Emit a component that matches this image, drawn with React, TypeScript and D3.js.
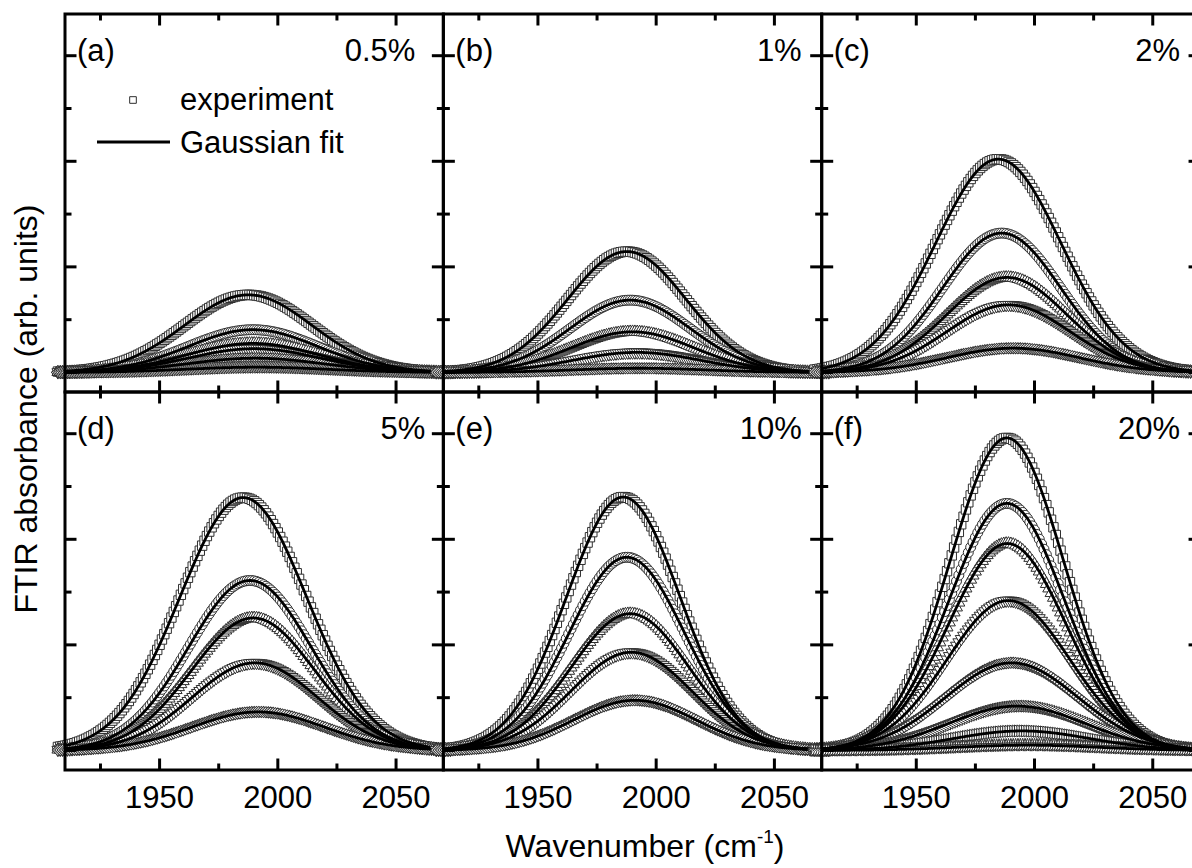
import React from 'react';
import * as d3 from 'd3';

// ---------- data ----------
const xDomain: [number, number] = [1910, 2070];
const yDomain: [number, number] = [-0.37, 6.79];
const majorXTicks = [1950, 2000, 2050];
const minorXTicks = [1925, 1975, 2025];
const majorYTicks = [0, 2, 4, 6];
const minorYTicks = [1, 3, 5];

const panelLetters = ['(a)', '(b)', '(c)', '(d)', '(e)', '(f)'];
const concentrations = ['0.5%', '1%', '2%', '5%', '10%', '20%'];

// Gaussian fit parameters per curve: peak height (arb.), centre (cm-1), sigma (cm-1)
const heightsA = [1.47, 0.81, 0.55, 0.45, 0.27, 0.1];
const centersA = [1987.5, 1989.5, 1989.5, 1990, 1990.5, 1991];
const sigmasA = [27, 27.5, 28, 28, 29, 30];

const heightsB = [2.29, 1.37, 0.77, 0.38, 0.08];
const centersB = [1987.6, 1989, 1990, 1991.8, 1993];
const sigmasB = [25, 25.5, 26, 27, 28];

const heightsC = [4.04, 2.64, 1.8, 1.28, 0.46];
const centersC = [1984.7, 1986.1, 1988.3, 1989, 1991];
const sigmasC = [26.5, 25, 25.5, 26, 28];

const heightsD = [4.79, 3.22, 2.51, 1.66, 0.73];
const centersD = [1985.4, 1988.2, 1989.6, 1990.3, 1991.7];
const sigmasD = [26.8, 26, 26, 26.5, 28];

const heightsE = [4.8, 3.66, 2.59, 1.86, 0.95];
const centersE = [1986.1, 1987.6, 1989, 1989.5, 1991];
const sigmasE = [24, 24.5, 25, 25.5, 26];

const heightsF = [5.92, 4.68, 3.92, 2.84, 1.66, 0.84, 0.37, 0.1];
const centersF = [1988.3, 1988.3, 1988.5, 1989, 1990.4, 1992.5, 1994.6, 1997];
const sigmasF = [24, 24.5, 25, 26, 28, 29, 29, 30];

const markerKinds = ['square', 'circle', 'triUp', 'triDown', 'diamond', 'triLeft', 'triRight', 'star'];

// ---------- layout ----------
const W = 1192;
const H = 868;
const left0 = 65;
const top0 = 14;
const panelW = 378.35;
const panelH = 378;
const FONT = "'Liberation Sans', Arial, Helvetica, sans-serif";

const panelsData = [
  { h: heightsA, c: centersA, s: sigmasA },
  { h: heightsB, c: centersB, s: sigmasB },
  { h: heightsC, c: centersC, s: sigmasC },
  { h: heightsD, c: centersD, s: sigmasD },
  { h: heightsE, c: centersE, s: sigmasE },
  { h: heightsF, c: centersF, s: sigmasF },
];

const gauss = (x: number, a: number, c: number, s: number) =>
  a * Math.exp(-((x - c) * (x - c)) / (2 * s * s));

const symSquare = d3.symbol().type(d3.symbolSquare).size(88)() as string;
const symCircle = d3.symbol().type(d3.symbolCircle).size(78)() as string;
const symTri = d3.symbol().type(d3.symbolTriangle).size(62)() as string;
const symDiamond = d3.symbol().type(d3.symbolSquare).size(62)() as string;
const symStar = d3.symbol().type(d3.symbolStar).size(55)() as string;

function markerPath(kind: string): { d: string; rot: number } {
  switch (kind) {
    case 'square': return { d: symSquare, rot: 0 };
    case 'circle': return { d: symCircle, rot: 0 };
    case 'triUp': return { d: symTri, rot: 0 };
    case 'triDown': return { d: symTri, rot: 180 };
    case 'diamond': return { d: symDiamond, rot: 45 };
    case 'triLeft': return { d: symTri, rot: -90 };
    case 'triRight': return { d: symTri, rot: 90 };
    default: return { d: symStar, rot: 0 };
  }
}

const expGrid = d3.range(1907, 2074, 1);
const fitGrid = d3.range(1910, 2070.01, 0.5);

function Panel({ idx }: { idx: number }) {
  const col = idx % 3;
  const row = Math.floor(idx / 3);
  const tx = left0 + col * panelW;
  const ty = top0 + row * panelH;
  const x = d3.scaleLinear().domain(xDomain).range([0, panelW]);
  const y = d3.scaleLinear().domain(yDomain).range([panelH, 0]);
  const pd = panelsData[idx];
  const lineGen = d3
    .line<[number, number]>()
    .x((p) => x(p[0]))
    .y((p) => y(p[1]));

  const markers: JSX.Element[] = [];
  pd.h.forEach((a, i) => {
    const mk = markerPath(markerKinds[i]);
    expGrid.forEach((w, j) => {
      const v = gauss(w, a, pd.c[i], pd.s[i]);
      markers.push(
        <path
          key={`m${i}-${j}`}
          d={mk.d}
          transform={`translate(${x(w).toFixed(2)},${y(v).toFixed(2)})${mk.rot ? ` rotate(${mk.rot})` : ''}`}
          fill="#fff"
          stroke="#2e2e2e"
          strokeWidth={1}
        />
      );
    });
  });

  const lines = pd.h.map((a, i) => {
    const pts: [number, number][] = fitGrid.map((w) => [w, gauss(w, a, pd.c[i], pd.s[i])]);
    return <path key={`l${i}`} d={lineGen(pts) as string} fill="none" stroke="#000" strokeWidth={2.8} />;
  });

  const tMaj = 11.5;
  const tMin = 6.5;
  const tickStyle = { stroke: '#000', strokeWidth: 3 };
  const ticks: JSX.Element[] = [];
  majorXTicks.forEach((t) => {
    ticks.push(<line key={`xb${t}`} x1={x(t)} x2={x(t)} y1={panelH} y2={panelH - tMaj} {...tickStyle} />);
    ticks.push(<line key={`xt${t}`} x1={x(t)} x2={x(t)} y1={0} y2={tMaj} {...tickStyle} />);
  });
  minorXTicks.forEach((t) => {
    ticks.push(<line key={`xbm${t}`} x1={x(t)} x2={x(t)} y1={panelH} y2={panelH - tMin} {...tickStyle} />);
    ticks.push(<line key={`xtm${t}`} x1={x(t)} x2={x(t)} y1={0} y2={tMin} {...tickStyle} />);
  });
  majorYTicks.forEach((t) => {
    ticks.push(<line key={`yl${t}`} x1={0} x2={tMaj} y1={y(t)} y2={y(t)} {...tickStyle} />);
    ticks.push(<line key={`yr${t}`} x1={panelW} x2={panelW - tMaj} y1={y(t)} y2={y(t)} {...tickStyle} />);
  });
  minorYTicks.forEach((t) => {
    ticks.push(<line key={`ylm${t}`} x1={0} x2={tMin} y1={y(t)} y2={y(t)} {...tickStyle} />);
    ticks.push(<line key={`yrm${t}`} x1={panelW} x2={panelW - tMin} y1={y(t)} y2={y(t)} {...tickStyle} />);
  });

  const concRight = idx === 0 ? 28 : idx === 3 ? 18 : 20;

  return (
    <g transform={`translate(${tx},${ty})`}>
      <g>{markers}</g>
      <g>{lines}</g>
      {ticks}
      <rect x={0} y={0} width={panelW} height={panelH} fill="none" stroke="#000" strokeWidth={3} />
      <text x={12} y={47} fontSize={31} fontFamily={FONT}>{panelLetters[idx]}</text>
      <text x={panelW - concRight} y={47} fontSize={31} fontFamily={FONT} textAnchor="end">
        {concentrations[idx]}
      </text>
      {row === 1 &&
        majorXTicks.map((t) => (
          <text key={`lab${t}`} x={x(t)} y={panelH + 38} fontSize={31} fontFamily={FONT} textAnchor="middle">
            {t}
          </text>
        ))}
      {idx === 0 && (
        <g>
          <path d={d3.symbol().type(d3.symbolSquare).size(44)() as string} transform="translate(68,86)" fill="#fff" stroke="#2e2e2e" strokeWidth={1} />
          <text x={115} y={96} fontSize={31} fontFamily={FONT}>experiment</text>
          <line x1={32} x2={105} y1={128} y2={128} stroke="#000" strokeWidth={2.8} />
          <text x={115} y={139} fontSize={31} fontFamily={FONT}>Gaussian fit</text>
        </g>
      )}
    </g>
  );
}

export default function App() {
  return (
    <svg
      width={W}
      height={H}
      viewBox={`0 0 ${W} ${H}`}
      style={{ position: 'absolute', left: 0, top: 0, background: '#fff' }}
      fontFamily={FONT}
    >
      <rect x={0} y={0} width={W} height={H} fill="#fff" />
      {[0, 1, 2, 3, 4, 5].map((i) => (
        <Panel key={i} idx={i} />
      ))}
      <text x={645} y={857} fontSize={32} textAnchor="middle" fontFamily={FONT}>
        Wavenumber (cm
        <tspan fontSize={19} dy={-14}>-1</tspan>
        <tspan dy={14}>)</tspan>
      </text>
      <text
        transform="translate(37,409) rotate(-90)"
        fontSize={32}
        textAnchor="middle"
        fontFamily={FONT}
      >
        FTIR absorbance (arb. units)
      </text>
    </svg>
  );
}
